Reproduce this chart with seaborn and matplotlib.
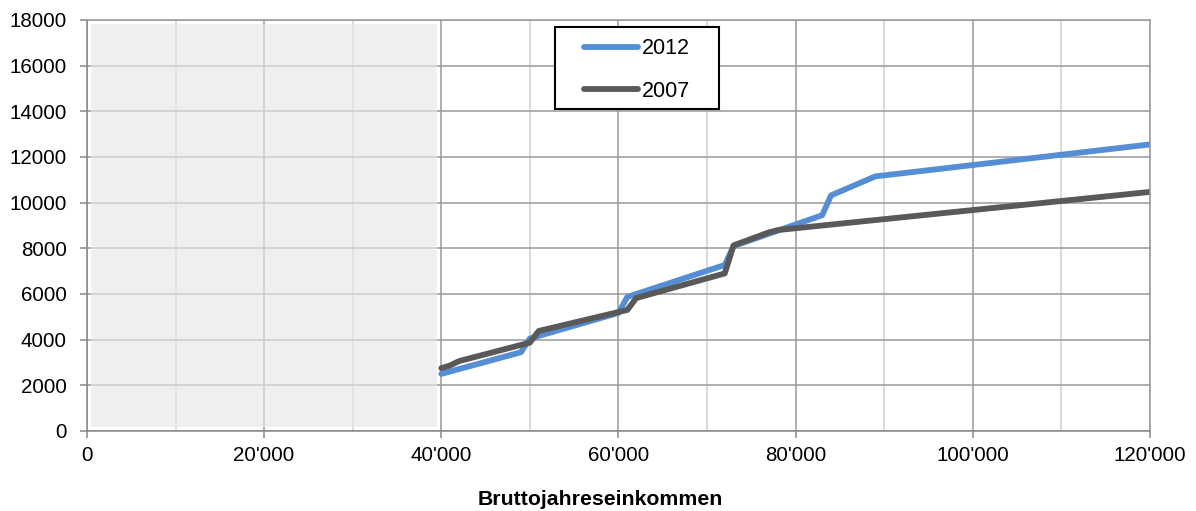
import numpy as np
import pandas as pd
import seaborn as sns
import matplotlib.pyplot as plt
from matplotlib.patches import Rectangle
from matplotlib.ticker import FuncFormatter, MultipleLocator

# einkommen / wert
inc_2012 = [40000, 49000, 50000, 60000, 61000, 72000, 73000, 83000, 84000, 89000, 120000]
val_2012 = [2500, 3450, 4050, 5170, 5870, 7270, 8100, 9450, 10320, 11150, 12550]

inc_2007 = [40000, 41000, 42000, 50000, 51000, 61000, 62000, 72000, 73000, 77000, 78000, 120000]
val_2007 = [2750, 2870, 3060, 3870, 4380, 5300, 5820, 6900, 8130, 8700, 8800, 10470]

years = ["2012", "2007"]
colors = {"2012": "#558ED5", "2007": "#595959"}

df = pd.concat([
    pd.DataFrame({"einkommen": inc_2012, "wert": val_2012, "jahr": "2012"}),
    pd.DataFrame({"einkommen": inc_2007, "wert": val_2007, "jahr": "2007"}),
])

sns.set_style("white")
plt.rcParams["font.family"] = ["Liberation Sans", "DejaVu Sans"]
plt.rcParams["text.color"] = "black"
plt.rcParams["xtick.labelcolor"] = "black"
plt.rcParams["ytick.labelcolor"] = "black"
plt.rcParams["axes.labelcolor"] = "black"

fig = plt.figure(figsize=(11.96, 5.11), dpi=100)
ax = fig.add_axes([0.0727, 0.1566, 0.8888, 0.8043])

sns.lineplot(data=df, x="einkommen", y="wert", hue="jahr", hue_order=years,
             palette=colors, linewidth=4.2, ax=ax, sort=False,
             estimator=None, solid_capstyle="round")

# grauer bereich unter 40'000
ax.axvspan(500, 39500, ymin=0.01, ymax=0.99, color=(231/255, 231/255, 231/255),
           alpha=0.667, lw=0, zorder=1.6)

ax.set_xlim(0, 120000)
ax.set_ylim(0, 18000)
ax.xaxis.set_major_locator(MultipleLocator(20000))
ax.xaxis.set_minor_locator(MultipleLocator(10000))
ax.yaxis.set_major_locator(MultipleLocator(2000))
ax.xaxis.set_major_formatter(FuncFormatter(lambda v, p: "0" if v == 0 else f"{int(v):,}".replace(",", "'")))

ax.set_axisbelow("line")
ax.grid(True, which="major", axis="both", color="#999999", lw=1.1)
ax.grid(True, which="minor", axis="x", color="#d0d0d0", lw=1.1)

for s in ax.spines.values():
    s.set_color("#999999")
    s.set_linewidth(1.1)
ax.spines["left"].set_color("#888888")
ax.spines["bottom"].set_color("#888888")

ax.tick_params(axis="both", which="major", direction="out", length=5, width=1.1,
               color="#888888", labelsize=14.8, bottom=True, left=True)
ax.tick_params(axis="x", which="major", pad=6)
ax.tick_params(axis="y", which="major", pad=9.5)
ax.tick_params(axis="x", which="minor", length=0)

ax.set_xlabel("Bruttojahreseinkommen", fontsize=15.3, fontweight="bold", labelpad=18)
ax.xaxis.label.set_x(0.4826)
ax.set_ylabel("")

# legendenrahmen
ax.add_patch(Rectangle((0.4403, 0.783), 0.1543, 0.2, transform=ax.transAxes,
                       facecolor="white", edgecolor="black", lw=1.5, zorder=4))
leg = ax.legend(loc="center", bbox_to_anchor=(0.4403 + 0.1543 / 2, 0.878), fontsize=15.5,
                frameon=False, handlelength=2.5, handletextpad=0.15,
                labelspacing=1.0, borderpad=0, borderaxespad=0)
leg.set_zorder(5)
leg.set_title(None)

fig.savefig("out.png", dpi=100)
